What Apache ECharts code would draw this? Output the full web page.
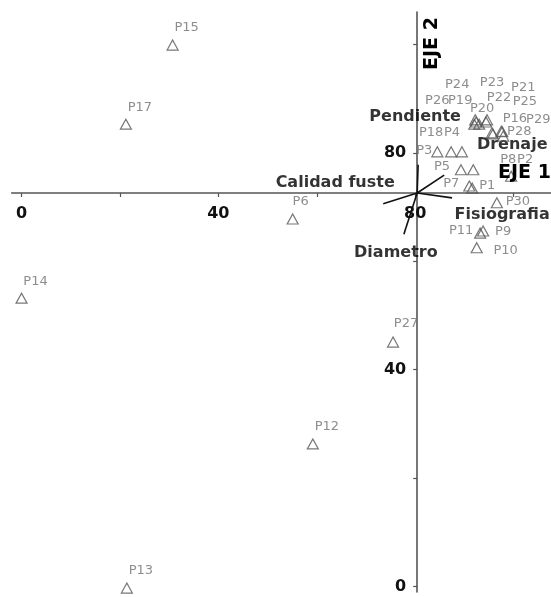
<!DOCTYPE html>
<html>
<head>
<meta charset="utf-8">
<script src="https://cdn.jsdelivr.net/npm/echarts@6/dist/echarts.min.js"></script>
<style>
  html, body { margin: 0; padding: 0; background: #ffffff; }
  #chart { width: 551px; height: 597px; }
</style>
</head>
<body>
<div id="chart"></div>
<script>
// Sampling plots (scores on the first two ordination axes)
const plotNames = ['P1','P2','P3','P4','P5','P6','P7','P8','P9','P10',
                   'P11','P12','P13','P14','P15','P16','P17','P18','P19','P20',
                   'P21','P22','P23','P24','P25','P26','P27','P28','P29','P30'];
const plotEje1 = [91.6, 99.5, 84.5, 89.5, 89.3, 55.1, 91.0, 91.8, 93.8, 92.5,
                  93.2, 59.2, 21.4, 0.0, 30.7, 95.6, 21.2, 87.3, 92.4, 93.0,
                  97.7, 94.4, 94.6, 92.2, 95.8, 92.0, 75.5, 97.9, 97.5, 96.6];
const plotEje2 = [73.5, 75.7, 80.2, 80.2, 76.9, 67.8, 73.9, 76.9, 65.6, 62.5,
                  65.2, 26.3, -0.3, 53.2, 99.9, 83.7, 85.3, 80.2, 85.7, 85.3,
                  83.9, 85.7, 86.1, 86.1, 83.5, 85.3, 45.1, 83.1, 84.0, 70.8];

// Environmental variables (vector tips)
const variableNames = ['Calidad fuste', 'Pendiente', 'Drenaje', 'Fisiografia', 'Diametro'];
const variableEje1 = [73.5, 80.6, 85.9, 87.5, 77.7];
const variableEje2 = [70.6, 77.8, 75.9, 71.7, 65.0];

// Point where the two axes cross (vector origin)
const axisOrigin = [80.4, 72.6];

// Tick marks and labelled ticks
const tickValues = [0, 20, 40, 60, 80, 100];
const tickLabelValues = [0, 40, 80];

// Label placement nudges (pixels, from the symbol centre)
const defaultNudge = [14, -17];
const labelNudge = {
  P1: [15, -3], P3: [-13, -1], P4: [-10, -19], P5: [-19, -3], P6: [8, -17],
  P7: [-18, -2], P8: [35, -10], P9: [20, 1], P10: [29, 3], P11: [-19, -2],
  P16: [23, -14], P18: [-20, -19], P19: [-16, -21], P20: [3, -16], P21: [21, -44],
  P22: [13, -24], P23: [5, -37], P24: [-18, -35], P25: [32, -32], P26: [-37, -24],
  P27: [13, -18], P28: [16, -4], P29: [37, -12], P30: [21, -1]
};
const variableNudge = {
  'Calidad fuste': [-48, -21], 'Pendiente': [-3, -48], 'Drenaje': [68, -30],
  'Fisiografia': [50, 17], 'Diametro': [-8, 19]
};

const X_MIN = -2, X_MAX = 107.6, Y_MIN = -1, Y_MAX = 106;
const FONT = 'DejaVu Sans';
const AXIS_COLOR = '#555555';
const GRID = { left: 11.7, right: 0, top: 12, bottom: 5.1 };

const chart = echarts.init(document.getElementById('chart'), null, { renderer: 'canvas' });

const plotData = plotNames.map((n, i) => ({
  name: n,
  value: [plotEje1[i], plotEje2[i]],
  label: { offset: labelNudge[n] || defaultNudge }
}));

const vectorSeries = variableNames.map((n, i) => ({
  type: 'line',
  name: n,
  data: [axisOrigin, [variableEje1[i], variableEje2[i]]],
  symbol: 'none',
  silent: true,
  z: 3,
  lineStyle: { color: '#111111', width: 1.6 }
}));

const vectorLabels = {
  type: 'scatter',
  symbolSize: 0,
  silent: true,
  z: 4,
  data: variableNames.map((n, i) => ({
    name: n,
    value: [variableEje1[i], variableEje2[i]],
    label: { offset: variableNudge[n] }
  })),
  label: {
    show: true, position: 'inside', formatter: '{b}',
    fontFamily: FONT, fontWeight: 'bold', fontSize: 16, color: '#000000'
  }
};

// Visible axis: same range as the plotting grid, drawn on its own grid edge
function shownAxis(range, gridIndex, position) {
  return {
    type: 'value', gridIndex: gridIndex, position: position,
    min: range[0], max: range[1],
    axisLine: { show: true, onZero: false, lineStyle: { color: AXIS_COLOR, width: 1.6 } },
    axisTick: { show: true, customValues: tickValues, length: 4, lineStyle: { color: AXIS_COLOR, width: 1.2 } },
    axisLabel: {
      show: true, customValues: tickLabelValues, margin: position === 'bottom' ? 13 : 11,
      fontFamily: FONT, fontWeight: 'bold', fontSize: 16, color: '#111111'
    },
    splitLine: { show: false }
  };
}
function hiddenAxis(range, gridIndex) {
  return { type: 'value', gridIndex: gridIndex, min: range[0], max: range[1], show: false, splitLine: { show: false } };
}

const xRange = [X_MIN, X_MAX], yRange = [Y_MIN, Y_MAX];

// First pass: plotting grid only, to find where the origin falls
chart.setOption({
  animation: false,
  backgroundColor: '#ffffff',
  grid: [Object.assign({ containLabel: false }, GRID)],
  xAxis: [hiddenAxis(xRange, 0)],
  yAxis: [hiddenAxis(yRange, 0)],
  series: []
});
const cross = chart.convertToPixel({ gridIndex: 0 }, axisOrigin);
const H = chart.getHeight();

chart.setOption({
  animation: false,
  backgroundColor: '#ffffff',
  grid: [
    Object.assign({ containLabel: false }, GRID),
    // horizontal axis grid: its bottom edge passes through the origin
    { left: GRID.left, right: GRID.right, top: GRID.top, bottom: H - cross[1], containLabel: false },
    // vertical axis grid: its left edge passes through the origin
    { left: cross[0], right: GRID.right, top: GRID.top, bottom: GRID.bottom, containLabel: false }
  ],
  xAxis: [hiddenAxis(xRange, 0), shownAxis(xRange, 1, 'bottom'), hiddenAxis(xRange, 2)],
  yAxis: [hiddenAxis(yRange, 0), hiddenAxis(yRange, 1), shownAxis(yRange, 2, 'left')],
  series: vectorSeries.concat([
    {
      type: 'scatter',
      name: 'Parcelas',
      symbol: 'triangle',
      symbolSize: [11, 10],
      z: 5,
      itemStyle: { color: 'rgba(255,255,255,0)', borderColor: '#555555', borderWidth: 1.2 },
      label: {
        show: true, position: 'inside', formatter: '{b}',
        fontFamily: FONT, fontSize: 13, color: '#707070'
      },
      data: plotData
    },
    vectorLabels
  ]),
  graphic: [
    {
      type: 'text', left: 498, top: 164, z: 10,
      style: { text: 'EJE 1', fontFamily: FONT, fontWeight: 'bold', fontSize: 19, fill: '#000000' }
    },
    {
      type: 'text', x: 423, y: 70, rotation: Math.PI / 2, z: 10,
      style: { text: 'EJE 2', fontFamily: FONT, fontWeight: 'bold', fontSize: 19, fill: '#000000' }
    }
  ]
}, true);
</script>
</body>
</html>
